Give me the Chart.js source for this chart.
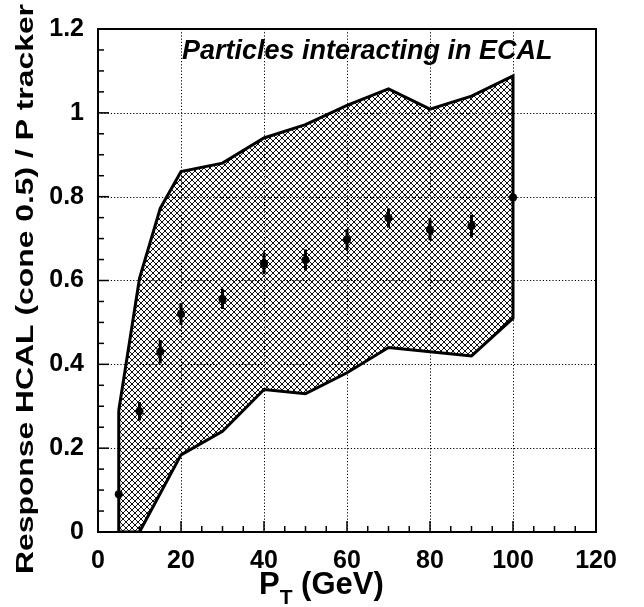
<!DOCTYPE html>
<html>
<head>
<meta charset="utf-8">
<script src="https://cdn.jsdelivr.net/npm/chart.js@4/dist/chart.umd.min.js"></script>
<style>
html,body{margin:0;padding:0;background:#fff;}
#wrap{width:644px;height:607px;}
</style>
</head>
<body>
<div id="wrap"><canvas id="c" width="644" height="607"></canvas></div>
<script>
// ---- data ----
const ptValues    = [5, 10, 15, 20, 30, 40, 50, 60, 70, 80, 90, 100];
const response    = [0.09, 0.288, 0.43, 0.52, 0.556, 0.64, 0.649, 0.698, 0.749, 0.721, 0.73, 0.798];
const responseErr = [0.0, 0.022, 0.028, 0.026, 0.024, 0.025, 0.025, 0.025, 0.023, 0.025, 0.027, 0.0];
const bandPt      = [5, 10, 15, 20, 30, 40, 50, 60, 70, 80, 90, 100];
const bandUpper   = [0.29, 0.605, 0.772, 0.86, 0.88, 0.94, 0.972, 1.018, 1.057, 1.009, 1.04, 1.088];
const bandLowerPt = [5, 10, 20, 30, 40, 50, 60, 70, 80, 90, 100];
const bandLower   = [0.0, 0.0, 0.184, 0.24, 0.34, 0.33, 0.38, 0.44, 0.43, 0.42, 0.51];
const xTickLabels = ['0', '20', '40', '60', '80', '100', '120'];
const yTickLabels = ['0', '0.2', '0.4', '0.6', '0.8', '1', '1.2'];
const titleText   = 'Particles interacting in ECAL';
const yTitleText  = 'Response HCAL (cone 0.5) / P tracker';

// closed polygon for the band: upper left->right, lower right->left, close
const bandPoly = [];
bandPt.forEach((x, i) => bandPoly.push({x: x, y: bandUpper[i]}));
for (let i = bandLowerPt.length - 1; i >= 0; i--) bandPoly.push({x: bandLowerPt[i], y: bandLower[i]});
bandPoly.push({x: bandPt[0], y: bandUpper[0]});

const points = ptValues.map((x, i) => ({x: x, y: response[i]}));

// crisp cross-hatch pattern
function makeHatch() {
  const s = 6;
  const c = document.createElement('canvas');
  c.width = s; c.height = s;
  const g = c.getContext('2d');
  g.fillStyle = '#111';
  for (let i = 0; i < s; i++) {
    g.fillRect(i, i, 1, 1);
    g.fillRect(i, s - 1 - i, 1, 1);
  }
  return g.createPattern(c, 'repeat');
}

const FONT = '"Liberation Sans", Arial, Helvetica, sans-serif';

const decor = {
  id: 'decor',
  beforeDatasetsDraw(chart) {
    const {ctx, chartArea: a, scales: {x, y}} = chart;
    ctx.save();
    ctx.strokeStyle = '#000';
    ctx.lineWidth = 1;
    ctx.setLineDash([1.2, 2]);
    for (let v = 20; v <= 100; v += 20) {
      const px = Math.round(x.getPixelForValue(v)) + 0.5;
      ctx.beginPath(); ctx.moveTo(px, a.top); ctx.lineTo(px, a.bottom); ctx.stroke();
    }
    for (let k = 1; k <= 5; k++) {
      const py = Math.round(y.getPixelForValue(k * 0.2)) + 0.5;
      ctx.beginPath(); ctx.moveTo(a.left, py); ctx.lineTo(a.right, py); ctx.stroke();
    }
    ctx.restore();
  },
  afterDatasetsDraw(chart) {
    const {ctx, chartArea: a, scales: {x, y}} = chart;
    ctx.save();
    // error bars
    ctx.strokeStyle = '#000';
    ctx.lineWidth = 3;
    ptValues.forEach((v, i) => {
      if (responseErr[i] <= 0) return;
      const px = x.getPixelForValue(v);
      ctx.beginPath();
      ctx.moveTo(px, y.getPixelForValue(response[i] - responseErr[i]));
      ctx.lineTo(px, y.getPixelForValue(response[i] + responseErr[i]));
      ctx.stroke();
    });
    // frame
    ctx.lineWidth = 2;
    ctx.strokeRect(a.left, a.top, a.right - a.left, a.bottom - a.top);
    // ticks
    ctx.lineWidth = 1.5;
    for (let v = 0; v <= 120; v += 5) {
      const px = x.getPixelForValue(v);
      const len = (v % 20 === 0) ? 11 : 6;
      ctx.beginPath(); ctx.moveTo(px, a.bottom); ctx.lineTo(px, a.bottom - len); ctx.stroke();
    }
    for (let k = 0; k <= 24; k++) {
      const py = y.getPixelForValue(k * 0.05);
      const len = (k % 4 === 0) ? 11 : 6;
      ctx.beginPath(); ctx.moveTo(a.left, py); ctx.lineTo(a.left + len, py); ctx.stroke();
    }
    ctx.restore();
  },
  afterDraw(chart) {
    const {ctx} = chart;
    ctx.save();
    ctx.fillStyle = '#000';
    // title in the plot
    ctx.font = 'italic bold 27px ' + FONT;
    ctx.textAlign = 'left';
    ctx.textBaseline = 'alphabetic';
    ctx.fillText(titleText, 182, 59);
    // x title with subscript
    ctx.font = 'bold 31px ' + FONT;
    let xx = 259;
    ctx.fillText('P', xx, 594);
    xx += ctx.measureText('P').width;
    ctx.font = 'bold 21px ' + FONT;
    ctx.fillText('T', xx, 604);
    xx += ctx.measureText('T').width;
    ctx.font = 'bold 31px ' + FONT;
    ctx.fillText(' (GeV)', xx, 594);
    // y title, stretched along its direction
    ctx.font = 'bold 23px ' + FONT;
    const w = ctx.measureText(yTitleText).width;
    const target = 570;
    ctx.translate(33, 289);
    ctx.rotate(-Math.PI / 2);
    ctx.scale(target / w, 1);
    ctx.textAlign = 'center';
    ctx.fillText(yTitleText, 0, 0);
    ctx.restore();
  }
};

new Chart(document.getElementById('c'), {
  type: 'scatter',
  data: {
    datasets: [
      {
        label: 'band',
        data: bandPoly,
        showLine: true,
        fill: 'shape',
        backgroundColor: makeHatch(),
        borderColor: '#000',
        borderWidth: 3,
        pointRadius: 0,
        tension: 0,
        order: 2
      },
      {
        label: 'response',
        data: points,
        pointRadius: 4,
        pointBackgroundColor: '#000',
        pointBorderColor: '#000',
        pointBorderWidth: 0,
        showLine: false,
        order: 1
      }
    ]
  },
  options: {
    responsive: false,
    animation: false,
    devicePixelRatio: 1,
    layout: {padding: {left: 0, right: 48, top: 16, bottom: 0}},
    plugins: {legend: {display: false}, tooltip: {enabled: false}, title: {display: false}},
    scales: {
      x: {
        type: 'linear', min: 0, max: 120,
        afterFit(s) { s.height = 75; },
        grid: {display: false, drawTicks: false},
        border: {display: false},
        ticks: {
          stepSize: 20, autoSkip: false, padding: 14, color: '#000',
          font: {family: FONT, size: 25, weight: 'bold'},
          callback: (v) => xTickLabels[Math.round(v / 20)]
        }
      },
      y: {
        type: 'linear', min: 0, max: 1.2,
        afterFit(s) { s.width = 98; },
        grid: {display: false, drawTicks: false},
        border: {display: false},
        ticks: {
          stepSize: 0.2, autoSkip: false, padding: 14, color: '#000',
          font: {family: FONT, size: 25, weight: 'bold'},
          callback: (v) => yTickLabels[Math.round(v / 0.2)]
        }
      }
    }
  },
  plugins: [decor]
});
</script>
</body>
</html>
